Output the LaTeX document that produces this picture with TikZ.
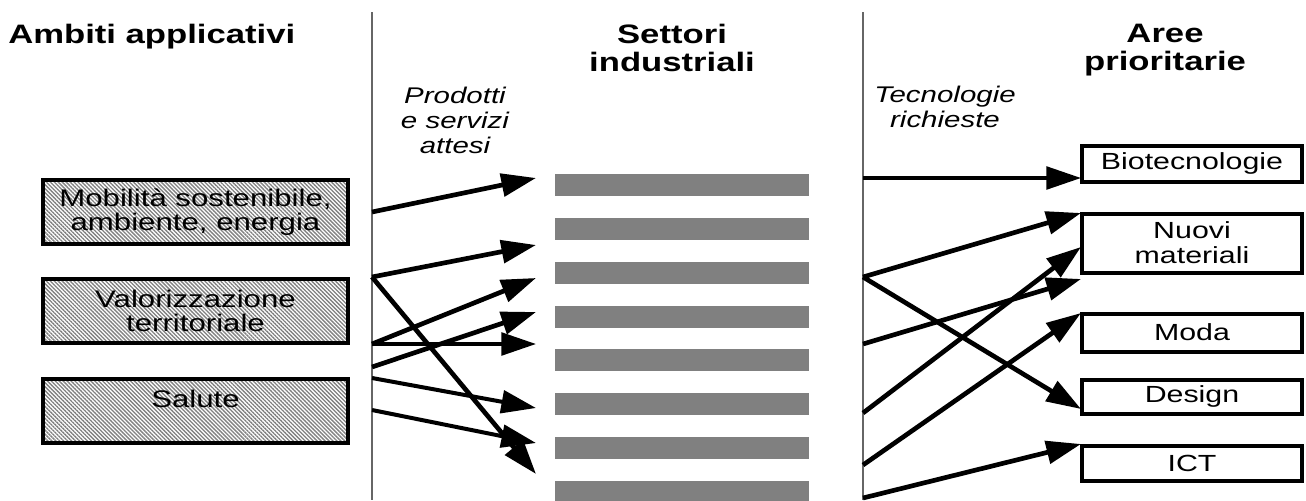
\documentclass[tikz,border=0pt]{standalone}
\usepackage{fontspec}
\setmainfont{Liberation Sans}[FakeStretch=1.3]
\usetikzlibrary{arrows.meta,patterns.meta}
\begin{document}
\begin{tikzpicture}[x=0.75pt,y=-0.75pt,
  lbox/.style={draw=black, line width=3pt, minimum width=228.75pt, minimum height=48pt,
    inner sep=0pt, align=center, font=\fontsize{18}{18}\selectfont,
    pattern={Lines[angle=-45,distance=2.1pt,line width=1pt]}, pattern color=black!50},
  rbox/.style={draw=black, line width=3pt, minimum width=165pt, inner sep=0pt,
    align=center, font=\fontsize{17.5}{18.75}\selectfont, fill=white},
  bar/.style={fill=black!50, minimum width=190.5pt, minimum height=16.5pt, inner sep=0pt},
  hdr/.style={inner sep=0pt, align=center, font=\bfseries\fontsize{20}{21.5}\selectfont},
  itl/.style={inner sep=0pt, align=center, font=\itshape\fontsize{17}{18.75}\selectfont},
  divider/.style={draw=black!60, line width=1pt},
  arr/.style={line width=3.5pt, -{Triangle[length=26pt,width=17pt]}},
  arrmid/.style={arr, line width=3pt},
  arrthin/.style={arr, line width=2.7pt}]
\useasboundingbox (0,0) rectangle (1306,500);

% headers
\node[hdr, anchor=base west] (amb) at (8,43) {Ambiti applicativi};
\node[hdr, anchor=north] (set) at (672,23.5) {Settori\\industriali};
\node[hdr, anchor=north] (aree) at (1165,23.5) {Aree\\prioritarie};
\node[itl, anchor=north] (prod) at (455,86.5) {Prodotti\\e servizi\\attesi};
\node[itl, anchor=north] (tec) at (945,85.5) {Tecnologie\\richieste};

% dividers
\coordinate (d1t) at (372,12);
\coordinate (d1b) at (372,500);
\coordinate (d2t) at (863,12);
\coordinate (d2b) at (863,500);
\draw[divider] (d1t) -- (d1b);
\draw[divider] (d2t) -- (d2b);

% left boxes
\node[lbox] (mob) at (195.5,212) {Mobilità sostenibile,\\ambiente, energia};
\node[lbox] (val) at (195.5,311) {Valorizzazione\\territoriale};
\node[lbox] (sal) at (195.5,411) {Salute\\\mbox{}};

% bars (settori)
\foreach \i/\y in {1/185,2/229,3/273,4/317,5/360,6/404,7/448,8/492}
  \node[bar] (s\i) at (682,\y) {};

% right boxes
\node[rbox, minimum height=27pt] (bio) at (1192,163.5) {Biotecnologie};
\node[rbox, minimum height=44.25pt] (nuo) at (1192,243) {Nuovi\\materiali};
\node[rbox, minimum height=28.5pt] (mod) at (1192,332.5) {Moda};
\node[rbox, minimum height=25.5pt] (des) at (1192,396.5) {Design};
\node[rbox, minimum height=26.25pt] (ict) at (1192,463) {ICT};

% left connector ends
\coordinate (L1) at (372,212);
\coordinate (L2) at (372,277);
\coordinate (L3) at (372,344);
\coordinate (L4) at (372,367);
\coordinate (L5) at (372,378);
\coordinate (L6) at (372,410);
\coordinate (T1) at (536,178);
\coordinate (T2) at (536,245);
\coordinate (T3) at (536,278);
\coordinate (T4) at (536,312);
\coordinate (T5) at (536,344);
\coordinate (T6) at (536,408);
\coordinate (T7) at (536,443);
\coordinate (T8) at (536,474);

\draw[arr] (L1) -- (T1);
\draw[arr] (L2) -- (T2);
\draw[arr] (L2) -- (T8);
\draw[arr] (L3) -- (T3);
\draw[arrthin] (L3) -- (T5);
\draw[arr] (L4) -- (T4);
\draw[arrmid] (L5) -- (T6);
\draw[arrmid] (L6) -- (T7);

% right connector ends
\coordinate (R1) at (863,178);
\coordinate (R2) at (863,277);
\coordinate (R3) at (863,344);
\coordinate (R4) at (863,413);
\coordinate (R5) at (863,465);
\coordinate (R6) at (863,498);
\coordinate (P1) at (1081,178);
\coordinate (P2) at (1081,213);
\coordinate (P3) at (1081,409);
\coordinate (P4) at (1081,279);
\coordinate (P5) at (1081,247);
\coordinate (P6) at (1081,313);
\coordinate (P7) at (1081,444);

\draw[arrthin] (R1) -- (P1);
\draw[arr] (R2) -- (P2);
\draw[arr] (R2) -- (P3);
\draw[arr] (R3) -- (P4);
\draw[arr] (R4) -- (P5);
\draw[arr] (R5) -- (P6);
\draw[arr] (R6) -- (P7);
\end{tikzpicture}
\end{document}
